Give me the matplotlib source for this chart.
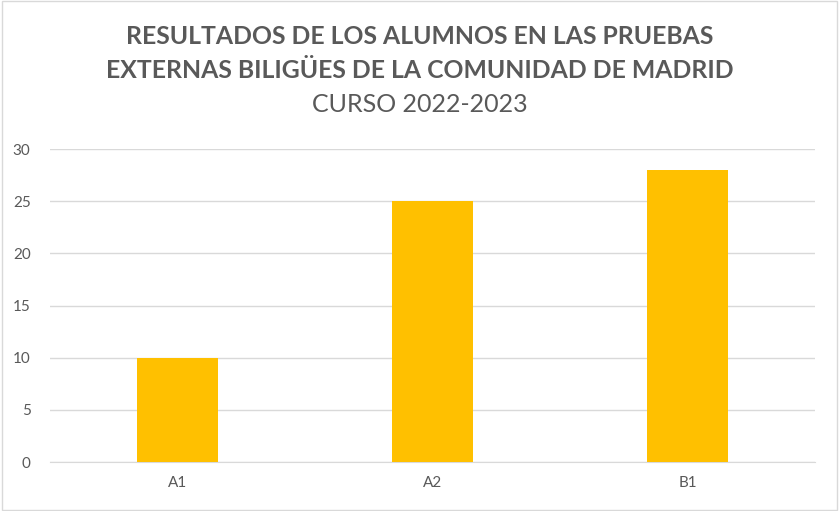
import matplotlib
matplotlib.use("Agg")
from matplotlib import pyplot as plt
from matplotlib.patches import Rectangle

categories = ["A1", "A2", "B1"]
values = [10, 25, 28]
yticks = [0, 5, 10, 15, 20, 25, 30]
title_lines = ["RESULTADOS DE LOS ALUMNOS EN LAS PRUEBAS",
               "EXTERNAS BILIGÜES DE LA COMUNIDAD DE MADRID"]
subtitle = "CURSO 2022-2023"

GREY = "#595959"
plt.rcParams['font.family'] = ['Lato', 'DejaVu Sans']

fig = plt.figure(figsize=(8.39, 5.11), dpi=100)
ax = fig.add_axes([50 / 839, 1 - 462 / 511, 765 / 839, 313 / 511])

x = range(len(categories))
ax.bar(x, values, width=0.314, color="#FFC000", zorder=3)
ax.set_xlim(-0.5, 2.5)
ax.set_ylim(0, 30)
ax.set_yticks(yticks)
ax.set_xticks(list(x))
ax.set_xticklabels(categories)
ax.grid(axis="y", color="#d9d9d9", linewidth=1, zorder=0)
for s in ["top", "right", "left"]:
    ax.spines[s].set_visible(False)
ax.spines["bottom"].set_color("#d9d9d9")
ax.tick_params(axis="both", length=0, colors=GREY, labelsize=11)
ax.tick_params(axis="y", pad=14)
ax.tick_params(axis="x", pad=10)

fig.text(0.5, 1 - 37 / 511, title_lines[0], ha="center", va="center",
         fontsize=17.8, fontweight="bold", color=GREY)
fig.text(0.5, 1 - 70 / 511, title_lines[1], ha="center", va="center",
         fontsize=17.8, fontweight="bold", color=GREY)
fig.text(0.5, 1 - 105 / 511, subtitle, ha="center", va="center",
         fontsize=18, color=GREY)

fig.patches.append(Rectangle((0.002, 0.002), 0.996, 0.996, transform=fig.transFigure,
                             fill=False, edgecolor="#d9d9d9", linewidth=1))

plt.savefig("out.png", dpi=100)
plt.close()
